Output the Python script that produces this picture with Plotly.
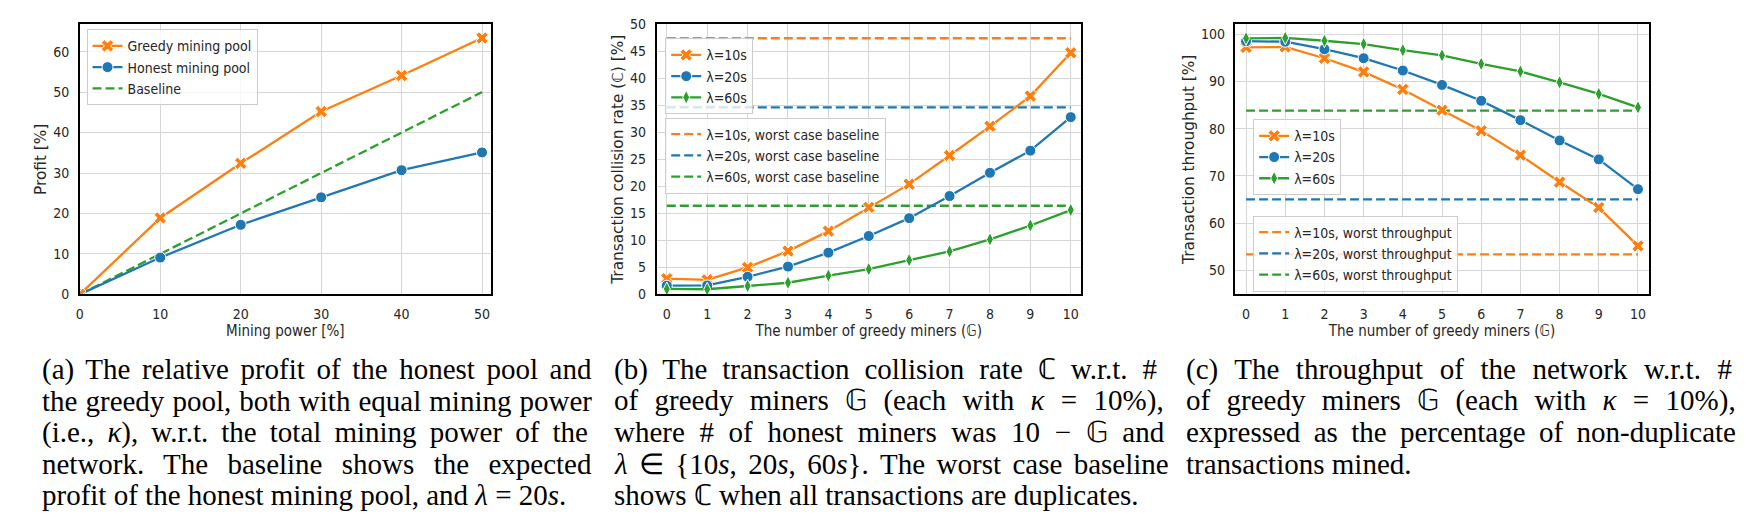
import re
import plotly.graph_objects as go

# ---------------- data ----------------
mining_power = [0, 10, 20, 30, 40, 50]
profit_greedy = [0, 18.9, 32.4, 45.2, 54.1, 63.4]
profit_honest = [0, 9.1, 17.2, 24.0, 30.7, 35.1]
profit_baseline = [0, 10, 20, 30, 40, 50]

greedy_miners = [0, 1, 2, 3, 4, 5, 6, 7, 8, 9, 10]
lambda_labels = ["λ=10s", "λ=20s", "λ=60s"]

collision_10 = [2.9, 2.7, 5.0, 8.0, 11.7, 16.1, 20.4, 25.7, 31.1, 36.7, 44.7]
collision_20 = [1.6, 1.65, 3.25, 5.14, 7.72, 10.8, 14.1, 18.2, 22.5, 26.6, 32.8]
collision_60 = [1.0, 0.95, 1.55, 2.15, 3.47, 4.67, 6.34, 7.95, 10.17, 12.74, 15.6]
collision_worst = [47.4, 34.6, 16.4]

throughput_10 = [97.2, 97.3, 94.9, 92.0, 88.3, 83.9, 79.55, 74.4, 68.7, 63.3, 55.2]
throughput_20 = [98.5, 98.4, 96.8, 94.9, 92.3, 89.25, 85.9, 81.8, 77.5, 73.5, 67.2]
throughput_60 = [99.1, 99.2, 98.6, 97.9, 96.6, 95.5, 93.7, 92.1, 89.8, 87.35, 84.5]
throughput_worst = [53.4, 65.05, 83.8]

# caption lines: (text, justified?)
caption_a = [
    ("(a) The relative profit of the honest pool and", True),
    ("the greedy pool, both with equal mining power", True),
    ("(i.e., <i>κ</i>), w.r.t. the total mining power of the", True),
    ("network. The baseline shows the expected", True),
    ("profit of the honest mining pool, and <i>λ</i> = 20<i>s</i>.", False),
]
caption_b = [
    ("(b) The transaction collision rate ℂ w.r.t. #", True),
    ("of greedy miners 𝔾 (each with <i>κ</i> = 10%),", True),
    ("where # of honest miners was 10 − 𝔾 and", True),
    ("<i>λ</i> ∈ {10<i>s</i>, 20<i>s</i>, 60<i>s</i>}. The worst case baseline", True),
    ("shows ℂ when all transactions are duplicates.", False),
]
caption_c = [
    ("(c) The throughput of the network w.r.t. #", True),
    ("of greedy miners 𝔾 (each with <i>κ</i> = 10%),", True),
    ("expressed as the percentage of non-duplicate", True),
    ("transactions mined.", False),
]

# ---------------- style ----------------
W, H = 1757, 529
ORANGE, BLUE, GREEN = "#ff7f0e", "#1f77b4", "#2ca02c"
TXT = "#262626"
GRID = "#d6d6d6"
DASH = "9px,4px"
LW = 2.3
SANS = "DejaVu Sans Condensed, DejaVu Sans"
TICK_FS = 14
TITLE_FS = 15
YTITLE_FS = 15.3
LEG_FS = 14
CAP_FS = 29
CAP_WIDTH = 550

# approximate Times (Liberation Serif) advance widths, in em
TIMES_W = {' ': .25, '(': .333, ')': .333, ',': .25, '.': .25, '#': .5, '%': .833, '=': .564,
           '{': .48, '}': .48, '-': .333, '−': .564, '∈': .67, 'κ': .5, 'λ': .5, 'ℂ': .72, '𝔾': .75,
           'a': .444, 'b': .5, 'c': .444, 'd': .5, 'e': .444, 'f': .333, 'g': .5, 'h': .5, 'i': .278,
           'j': .278, 'k': .5, 'l': .278, 'm': .778, 'n': .5, 'o': .5, 'p': .5, 'q': .5, 'r': .333,
           's': .389, 't': .278, 'u': .5, 'v': .5, 'w': .722, 'x': .5, 'y': .5, 'z': .444,
           'T': .611}
for dch in "0123456789":
    TIMES_W[dch] = .5


def fx(p):
    return p / W


def fy(p):
    return 1 - p / H


fig = go.Figure()

mk_x = dict(symbol="x", size=11, color=ORANGE, line=dict(color="white", width=1))
mk_o = dict(symbol="circle", size=11, color=BLUE, line=dict(color="white", width=1))
mk_d = dict(symbol="diamond-tall", size=10, color=GREEN, line=dict(color="white", width=1))

# ---- panel (a) ----
fig.add_trace(go.Scatter(x=mining_power, y=profit_baseline, mode="lines", name="Baseline",
                         line=dict(color=GREEN, width=LW, dash=DASH),
                         xaxis="x", yaxis="y", legend="legend", legendrank=3))
fig.add_trace(go.Scatter(x=mining_power, y=profit_honest, mode="lines+markers", name="Honest mining pool",
                         line=dict(color=BLUE, width=LW), marker=mk_o,
                         xaxis="x", yaxis="y", legend="legend", legendrank=2))
fig.add_trace(go.Scatter(x=mining_power, y=profit_greedy, mode="lines+markers", name="Greedy mining pool",
                         line=dict(color=ORANGE, width=LW), marker=mk_x,
                         xaxis="x", yaxis="y", legend="legend", legendrank=1))

# ---- panel (b) ----
for i, (val, col) in enumerate(zip(collision_worst, [ORANGE, BLUE, GREEN])):
    fig.add_trace(go.Scatter(x=[greedy_miners[0], greedy_miners[-1]], y=[val, val], mode="lines",
                             name=lambda_labels[i] + ", worst case baseline",
                             line=dict(color=col, width=LW, dash=DASH),
                             xaxis="x2", yaxis="y2", legend="legend3", legendrank=i + 1))
for i, (ys, col, mk) in enumerate(zip([collision_10, collision_20, collision_60],
                                      [ORANGE, BLUE, GREEN], [mk_x, mk_o, mk_d])):
    fig.add_trace(go.Scatter(x=greedy_miners, y=ys, mode="lines+markers", name=lambda_labels[i],
                             line=dict(color=col, width=LW), marker=mk,
                             xaxis="x2", yaxis="y2", legend="legend2", legendrank=i + 1))

# ---- panel (c) ----
for i, (val, col) in enumerate(zip(throughput_worst, [ORANGE, BLUE, GREEN])):
    fig.add_trace(go.Scatter(x=[greedy_miners[0], greedy_miners[-1]], y=[val, val], mode="lines",
                             name=lambda_labels[i] + ", worst throughput",
                             line=dict(color=col, width=LW, dash=DASH),
                             xaxis="x3", yaxis="y3", legend="legend5", legendrank=i + 1))
for i, (ys, col, mk) in enumerate(zip([throughput_10, throughput_20, throughput_60],
                                      [ORANGE, BLUE, GREEN], [mk_x, mk_o, mk_d])):
    fig.add_trace(go.Scatter(x=greedy_miners, y=ys, mode="lines+markers", name=lambda_labels[i],
                             line=dict(color=col, width=LW), marker=mk,
                             xaxis="x3", yaxis="y3", legend="legend4", legendrank=i + 1))


def xax(dom, rng, tickvals, title, anchor):
    return dict(domain=dom, range=rng, tickvals=tickvals, anchor=anchor,
                showgrid=True, gridcolor=GRID, gridwidth=1, zeroline=False,
                showline=True, mirror=True, linecolor="black", linewidth=1.5,
                ticks="", ticklabelstandoff=6,
                tickfont=dict(family=SANS, size=TICK_FS, color=TXT),
                title=dict(text=title, font=dict(family=SANS, size=TITLE_FS, color=TXT), standoff=2))


def yax(dom, rng, tickvals, title, anchor):
    d = xax(dom, rng, tickvals, title, anchor)
    d["title"] = dict(text=title, font=dict(family="DejaVu Sans", size=YTITLE_FS, color=TXT), standoff=2.5)
    return d


ydom = [fy(295.3), fy(16.7)]
leg_common = dict(xanchor="left", yanchor="top", bgcolor="rgba(255,255,255,0.8)",
                  bordercolor="#cccccc", borderwidth=1,
                  font=dict(family=SANS, size=LEG_FS, color=TXT),
                  tracegroupgap=0, traceorder="normal")


def natural_width(text):
    plain = re.sub(r"<[^>]+>", "", text)
    return sum(TIMES_W.get(ch, .5) for ch in plain) * CAP_FS


annotations = []
line_y = [372.7 + 32.4 * k for k in range(5)]
for cap, x0 in [(caption_a, 36), (caption_b, 609), (caption_c, 1183)]:
    for j, (line, just) in enumerate(cap):
        txt = line
        if just:
            gaps = line.count(" ")
            extra = max(0.0, (CAP_WIDTH - natural_width(line)) / gaps)
            txt = '<span style="word-spacing:%.2fpx">%s</span>' % (extra, line)
        annotations.append(dict(text=txt, x=fx(x0), y=fy(line_y[j]), xref="paper", yref="paper",
                                xanchor="left", yanchor="middle", showarrow=False,
                                font=dict(family="Liberation Serif", size=CAP_FS, color="black")))

fig.update_layout(
    width=W, height=H, margin=dict(l=0, r=0, t=0, b=0),
    paper_bgcolor="white", plot_bgcolor="white",
    font=dict(family=SANS, color=TXT),
    xaxis=xax([fx(76), fx(488)], [0, 51.1], [0, 10, 20, 30, 40, 50], "Mining power [%]", "y"),
    yaxis=yax(ydom, [0, 66.8], [0, 10, 20, 30, 40, 50, 60], "Profit [%]", "x"),
    xaxis2=xax([fx(654), fx(1079.3)], [-0.255, 10.25], greedy_miners, "The number of greedy miners (𝔾)", "y2"),
    yaxis2=yax(ydom, [0, 50], [0, 5, 10, 15, 20, 25, 30, 35, 40, 45, 50],
               "Transaction collision rate (ℂ) [%]", "x2"),
    xaxis3=xax([fx(1234.3), fx(1648.3)], [-0.27, 10.27], greedy_miners, "The number of greedy miners (𝔾)", "y3"),
    yaxis3=yax(ydom, [44.94, 102.1], [50, 60, 70, 80, 90, 100], "Transaction throughput [%]", "x3"),
    legend=dict(x=fx(82.7), y=fy(22), **leg_common),
    legend2=dict(x=fx(662.7), y=fy(31.3), **leg_common),
    legend3=dict(x=fx(662.7), y=fy(113), **leg_common),
    legend4=dict(x=fx(1252), y=fy(114.7), **leg_common),
    legend5=dict(x=fx(1252), y=fy(214), **leg_common),
    annotations=annotations,
    showlegend=True,
)

fig.write_html("out.html", config={"displayModeBar": False},
               post_script="document.body.style.margin='0px';document.body.style.overflow='hidden';")
